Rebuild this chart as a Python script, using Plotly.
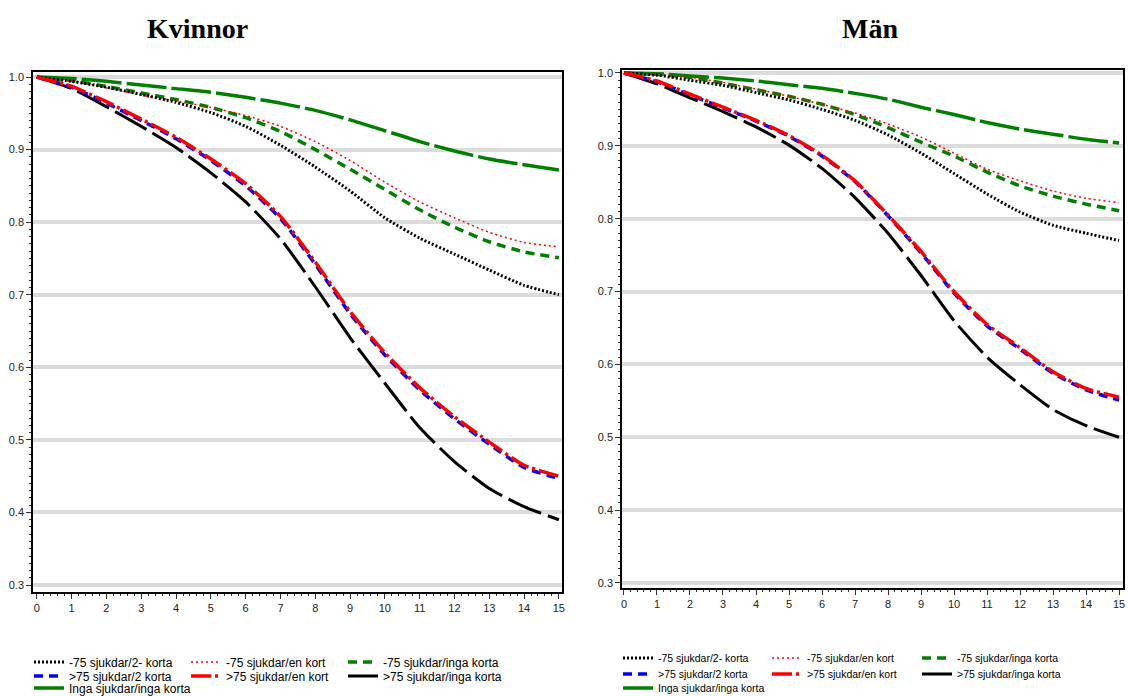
import plotly.graph_objects as go

W, H = 1129, 696

years = list(range(16))
tick_vals_y = [0.3, 0.4, 0.5, 0.6, 0.7, 0.8, 0.9, 1.0]
tick_text_y = ["0.3", "0.4", "0.5", "0.6", "0.7", "0.8", "0.9", "1.0"]
tick_vals_x = list(range(16))

series_names = [
    "-75 sjukdar/2- korta",
    "-75 sjukdar/en kort",
    "-75 sjukdar/inga korta",
    ">75 sjukdar/2 korta",
    ">75 sjukdar/en kort",
    ">75 sjukdar/inga korta",
    "Inga sjukdar/inga korta",
]

# Kvinnor
k_m75_2 = [1.0, 0.994, 0.986, 0.976, 0.965, 0.951, 0.932, 0.906, 0.876, 0.843, 0.806, 0.778, 0.756, 0.734, 0.713, 0.700]
k_m75_en = [1.0, 0.995, 0.985, 0.975, 0.967, 0.958, 0.947, 0.932, 0.911, 0.885, 0.855, 0.828, 0.806, 0.786, 0.772, 0.766]
k_m75_inga = [1.0, 0.995, 0.987, 0.978, 0.969, 0.958, 0.944, 0.925, 0.900, 0.873, 0.845, 0.817, 0.793, 0.773, 0.759, 0.751]
k_p75_2 = [1.0, 0.986, 0.964, 0.940, 0.915, 0.885, 0.850, 0.805, 0.742, 0.674, 0.617, 0.569, 0.529, 0.494, 0.462, 0.447]
k_p75_en = [1.0, 0.987, 0.966, 0.942, 0.917, 0.887, 0.853, 0.808, 0.745, 0.677, 0.620, 0.572, 0.532, 0.497, 0.465, 0.450]
k_p75_inga = [1.0, 0.984, 0.959, 0.932, 0.903, 0.868, 0.828, 0.777, 0.711, 0.641, 0.578, 0.517, 0.470, 0.433, 0.408, 0.390]
k_inga = [1.0, 0.998, 0.994, 0.989, 0.984, 0.979, 0.972, 0.964, 0.954, 0.941, 0.926, 0.911, 0.898, 0.887, 0.879, 0.872]

# Män
m_m75_2 = [1.0, 0.997, 0.990, 0.983, 0.973, 0.963, 0.950, 0.935, 0.915, 0.890, 0.862, 0.834, 0.809, 0.791, 0.780, 0.770]
m_m75_en = [1.0, 0.998, 0.994, 0.987, 0.978, 0.968, 0.957, 0.945, 0.930, 0.912, 0.890, 0.868, 0.852, 0.838, 0.828, 0.822]
m_m75_inga = [1.0, 0.998, 0.994, 0.986, 0.977, 0.968, 0.957, 0.943, 0.925, 0.905, 0.886, 0.864, 0.845, 0.831, 0.820, 0.811]
m_p75_2 = [1.0, 0.988, 0.970, 0.952, 0.934, 0.913, 0.886, 0.851, 0.804, 0.753, 0.698, 0.653, 0.621, 0.588, 0.565, 0.551]
m_p75_en = [1.0, 0.989, 0.971, 0.953, 0.935, 0.914, 0.887, 0.852, 0.805, 0.755, 0.700, 0.655, 0.623, 0.590, 0.567, 0.555]
m_p75_inga = [1.0, 0.985, 0.966, 0.947, 0.926, 0.901, 0.869, 0.829, 0.780, 0.722, 0.660, 0.610, 0.572, 0.538, 0.516, 0.500]
m_inga = [1.0, 0.999, 0.996, 0.993, 0.989, 0.984, 0.979, 0.972, 0.964, 0.953, 0.943, 0.932, 0.923, 0.916, 0.909, 0.904]

kvinnor = [k_m75_2, k_m75_en, k_m75_inga, k_p75_2, k_p75_en, k_p75_inga, k_inga]
man = [m_m75_2, m_m75_en, m_m75_inga, m_p75_2, m_p75_en, m_p75_inga, m_inga]

styles = [
    dict(color="black", width=3, dash="2px,2px"),
    dict(color="red", width=1.5, dash="2px,3px"),
    dict(color="green", width=3.5, dash="9px,6px"),
    dict(color="blue", width=3.5, dash="9px,6px"),
    dict(color="red", width=3.5, dash="20px,4px,3px,4px"),
    dict(color="black", width=3, dash="36px,7px"),
    dict(color="green", width=3.5, dash="40px,5px"),
]

# drawing order (blue under red)
draw_order = [6, 2, 1, 0, 5, 3, 4]

def px2x(p):
    return p / W

def px2y(p):
    return 1 - p / H

# legend layout: (column start px, row centre px)
left_cols = [34, 191, 348]
left_rows = [662, 676, 688]
right_cols = [623, 772, 922]
right_rows = [658, 674, 688]
grid_pos = [(0, 0), (1, 0), (2, 0), (0, 1), (1, 1), (2, 1), (0, 2)]

fig = go.Figure()
layout_legends = {}
lid = 1
for panel, (data, xa, ya, cols, rows, fsize) in enumerate([
    (kvinnor, "x", "y", left_cols, left_rows, 12),
    (man, "x2", "y2", right_cols, right_rows, 10.5),
]):
    for i in draw_order:
        name = "legend" if lid == 1 else f"legend{lid}"
        c, r = grid_pos[i]
        fig.add_trace(go.Scatter(
            x=years, y=data[i], mode="lines", name=series_names[i],
            line=dict(shape="spline", smoothing=0.6, **styles[i]),
            xaxis=xa, yaxis=ya, legend=name, showlegend=True,
            hoverinfo="skip",
        ))
        layout_legends[name] = dict(
            x=px2x(cols[c] - 5), y=px2y(rows[r]), xanchor="left", yanchor="middle",
            xref="paper", yref="paper",
            bgcolor="rgba(0,0,0,0)", borderwidth=0,
            font=dict(family="Liberation Sans, Arial", size=fsize, color="black"),
            orientation="v", itemwidth=30, tracegroupgap=0,
        )
        lid += 1

axis_common = dict(
    showline=True, mirror=True, linecolor="black", linewidth=1.5,
    ticks="outside", ticklen=5, tickwidth=1.2, tickcolor="#333",
    zeroline=False,
    tickfont=dict(family="Liberation Sans, Arial", size=11, color="#222"),
)

fig.update_layout(
    width=W, height=H,
    margin=dict(l=0, r=0, t=0, b=0, autoexpand=False),
    paper_bgcolor="white", plot_bgcolor="white",
    xaxis=dict(domain=[px2x(33), px2x(562)], range=[-0.11, 15.09], anchor="y",
               tickvals=tick_vals_x, showgrid=False,
               minor=dict(dtick=0.2, tick0=0, ticks="outside", ticklen=2.5, tickcolor="#333", showgrid=False),
               **axis_common),
    yaxis=dict(domain=[1 - 592 / H, 1 - 72 / H], range=[0.2904, 1.0069], anchor="x",
               tickvals=tick_vals_y, ticktext=tick_text_y,
               showgrid=True, gridcolor="#dcdcdc", gridwidth=4,
               minor=dict(dtick=0.01, tick0=0.3, ticks="outside", ticklen=2.5, tickcolor="#333", showgrid=False),
               **axis_common),
    xaxis2=dict(domain=[px2x(622), px2x(1123)], range=[-0.06, 15.12], anchor="y2",
                tickvals=tick_vals_x, showgrid=False,
                minor=dict(dtick=0.2, tick0=0, ticks="outside", ticklen=2.5, tickcolor="#333", showgrid=False),
                **axis_common),
    yaxis2=dict(domain=[1 - 588 / H, 1 - 70 / H], range=[0.2931, 1.0041], anchor="x2",
                tickvals=tick_vals_y, ticktext=tick_text_y,
                showgrid=True, gridcolor="#dcdcdc", gridwidth=4,
                minor=dict(dtick=0.01, tick0=0.3, ticks="outside", ticklen=2.5, tickcolor="#333", showgrid=False),
                **axis_common),
    annotations=[
        dict(text="<b>Kvinnor</b>", x=px2x(197), y=px2y(28), xref="paper", yref="paper",
             xanchor="center", yanchor="middle", showarrow=False,
             font=dict(family="Liberation Serif, Times New Roman", size=28, color="black")),
        dict(text="<b>Män</b>", x=px2x(870), y=px2y(28), xref="paper", yref="paper",
             xanchor="center", yanchor="middle", showarrow=False,
             font=dict(family="Liberation Serif, Times New Roman", size=28, color="black")),
    ],
    **layout_legends,
)

fig.write_html("out.html")
